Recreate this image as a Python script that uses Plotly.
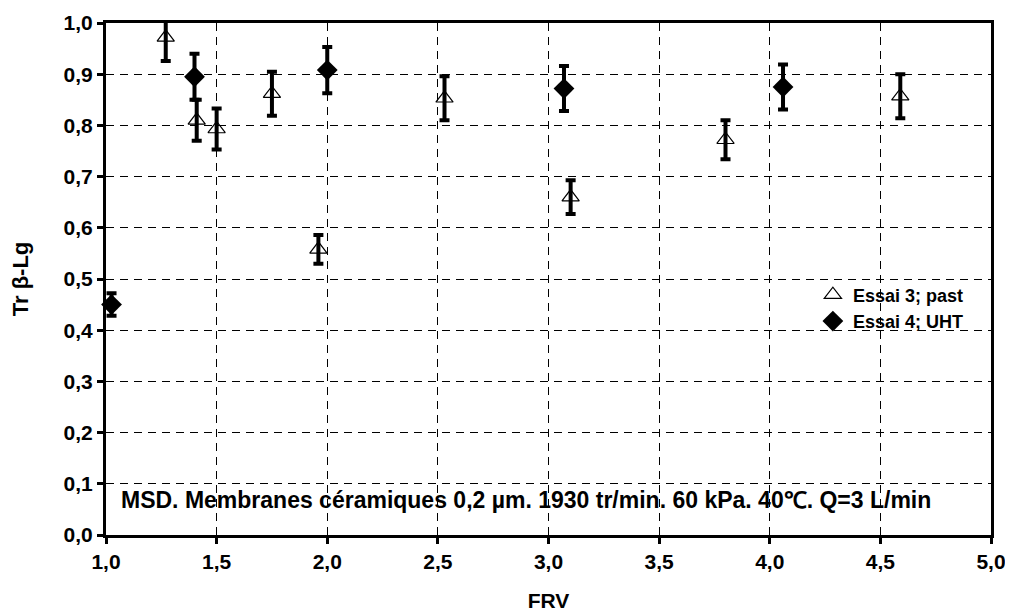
import plotly.graph_objects as go

# Essai 3; past (open triangles)
frv_past = [1.27, 1.41, 1.50, 1.75, 1.96, 2.53, 3.10, 3.80, 4.59]
tr_past = [0.972, 0.810, 0.793, 0.862, 0.558, 0.853, 0.660, 0.772, 0.857]
err_past = [0.046, 0.040, 0.040, 0.043, 0.028, 0.043, 0.033, 0.038, 0.043]

# Essai 4; UHT (filled diamonds)
frv_uht = [1.025, 1.40, 2.00, 3.07, 4.06]
tr_uht = [0.450, 0.895, 0.908, 0.872, 0.875]
err_uht = [0.022, 0.045, 0.045, 0.044, 0.044]

FONT = "Liberation Sans, Arial, sans-serif"

fig = go.Figure()

fig.add_trace(go.Scatter(
    x=frv_past, y=tr_past, mode="markers", name="Essai 3; past", cliponaxis=False,
    marker=dict(symbol="triangle-up-open", size=15, color="black", line=dict(width=1.2)),
    error_y=dict(type="data", array=err_past, color="black", thickness=4, width=5),
))
fig.add_trace(go.Scatter(
    x=frv_uht, y=tr_uht, mode="markers", name="Essai 4; UHT", cliponaxis=False,
    marker=dict(symbol="diamond", size=16, color="black"),
    error_y=dict(type="data", array=err_uht, color="black", thickness=4, width=5),
))

fig.add_annotation(
    x=1.06, y=0.068, xref="x", yref="y", xanchor="left", yanchor="middle",
    text="MSD. Membranes céramiques 0,2 µm. 1930 tr/min. 60 kPa. 40℃. Q=3 L/min",
    showarrow=False, font=dict(family=FONT, size=23, color="black", weight="bold"),
)

axis_common = dict(
    showline=True, linecolor="black", linewidth=3, mirror=True,
    ticks="outside", tickwidth=3, ticklen=6, tickcolor="black",
    showgrid=True, gridcolor="black", gridwidth=1, griddash="8px,6px",
    zeroline=False, tickformat=".1f", automargin=False,
    tickfont=dict(family=FONT, size=21, color="black", weight="bold"),
)

fig.update_xaxes(
    range=[1.0, 5.0], dtick=0.5, tick0=1.0,
    title=dict(text="FRV", font=dict(family=FONT, size=21, color="black", weight="bold"), standoff=22),
    **axis_common,
)
fig.update_yaxes(
    range=[0.0, 1.0], dtick=0.1, tick0=0,
    title=dict(text="Tr β-Lg", font=dict(family=FONT, size=22, color="black", weight="bold"), standoff=30),
    **axis_common,
)

# the page body adds an 8px offset, so the figure is sized to fit the window
fig.update_layout(
    width=1005, height=608,
    margin=dict(l=98, r=22, t=15, b=81),
    paper_bgcolor="white", plot_bgcolor="white",
    separators=", ",
    showlegend=True,
    legend=dict(
        x=0.975, y=0.505, xanchor="right", yanchor="top",
        bgcolor="rgba(255,255,255,0)", borderwidth=0,
        font=dict(family=FONT, size=18, color="black", weight="bold"),
        itemwidth=30, tracegroupgap=2,
    ),
)

fig.write_html("out.html")
